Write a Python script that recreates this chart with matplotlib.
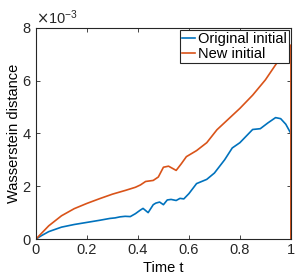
import numpy as np
import matplotlib
matplotlib.use("Agg")
import matplotlib.pyplot as plt
from matplotlib.ticker import ScalarFormatter, FuncFormatter

plt.rcParams['font.family'] = ['Liberation Sans', 'DejaVu Sans']

# Wasserstein distance over time (values in units of 1e-3)
t_orig = [0, 0.02, 0.05, 0.1, 0.15, 0.2, 0.25, 0.29, 0.31, 0.33, 0.35, 0.37,
          0.39, 0.41, 0.42, 0.44, 0.46, 0.47, 0.485, 0.5, 0.515, 0.53, 0.55,
          0.565, 0.58, 0.6, 0.63, 0.67, 0.7, 0.74, 0.77, 0.8, 0.83, 0.85,
          0.88, 0.91, 0.94, 0.96, 0.98, 1.0, 1.0]
w_orig = [0, 0.12, 0.28, 0.45, 0.55, 0.63, 0.71, 0.78, 0.80, 0.84, 0.86, 0.85,
          0.96, 1.1, 1.16, 1.0, 1.3, 1.36, 1.4, 1.3, 1.48, 1.5, 1.46,
          1.54, 1.52, 1.72, 2.1, 2.26, 2.5, 3.0, 3.45, 3.65, 3.95, 4.15,
          4.18, 4.4, 4.6, 4.56, 4.35, 4.0, 0]

t_new = [0, 0.02, 0.05, 0.1, 0.15, 0.2, 0.25, 0.3, 0.35, 0.39, 0.41, 0.43,
         0.46, 0.48, 0.5, 0.52, 0.55, 0.57, 0.59, 0.63, 0.67, 0.71, 0.75,
         0.8, 0.85, 0.9, 0.94, 0.97, 1.0, 1.0]
w_new = [0, 0.2, 0.5, 0.88, 1.15, 1.35, 1.53, 1.7, 1.84, 1.96, 2.05, 2.18,
         2.22, 2.35, 2.72, 2.76, 2.60, 2.85, 3.12, 3.35, 3.65, 4.14, 4.5,
         4.95, 5.45, 6.03, 6.6, 7.0, 7.35, 0]

labels = ['Original initial', 'New initial']
colors = ['#0072BD', '#D95319']
fs = 10.5

fig = plt.figure(figsize=(2.95, 2.76), dpi=100)
ax = fig.add_axes([0.122, 0.134, 0.864, 0.765])

ax.plot(t_orig, np.array(w_orig) * 1e-3, color=colors[0], lw=1.2, label=labels[0])
ax.plot(t_new, np.array(w_new) * 1e-3, color=colors[1], lw=1.2, label=labels[1])

ax.set_xlim(0, 1)
ax.set_ylim(0, 8e-3)
ax.set_xticks(np.arange(0, 1.01, 0.2))
ax.set_yticks(np.arange(0, 8.01e-3, 2e-3))
ax.xaxis.set_major_formatter(FuncFormatter(lambda v, p: '%g' % round(v, 2)))
fmt = ScalarFormatter(useMathText=True)
fmt.set_powerlimits((-2, 2))
ax.yaxis.set_major_formatter(fmt)

ax.tick_params(direction='in', length=3, width=0.6, top=True, right=True,
               labelsize=fs, colors='#262626', pad=3)
for s in ax.spines.values():
    s.set_color('#262626')
    s.set_linewidth(0.8)
ax.yaxis.get_offset_text().set_fontsize(fs)

ax.set_xlabel('Time t', fontsize=fs, labelpad=3)
ax.set_ylabel('Wasserstein distance', fontsize=fs, labelpad=1)

leg = ax.legend(loc='upper right', fontsize=fs, handlelength=0.9,
                handletextpad=0.15, borderpad=0.15, labelspacing=0.05,
                borderaxespad=0.15, fancybox=False, framealpha=1)
leg.get_frame().set_edgecolor('#262626')
leg.get_frame().set_linewidth(0.8)

fig.savefig('out.png', dpi=100)
